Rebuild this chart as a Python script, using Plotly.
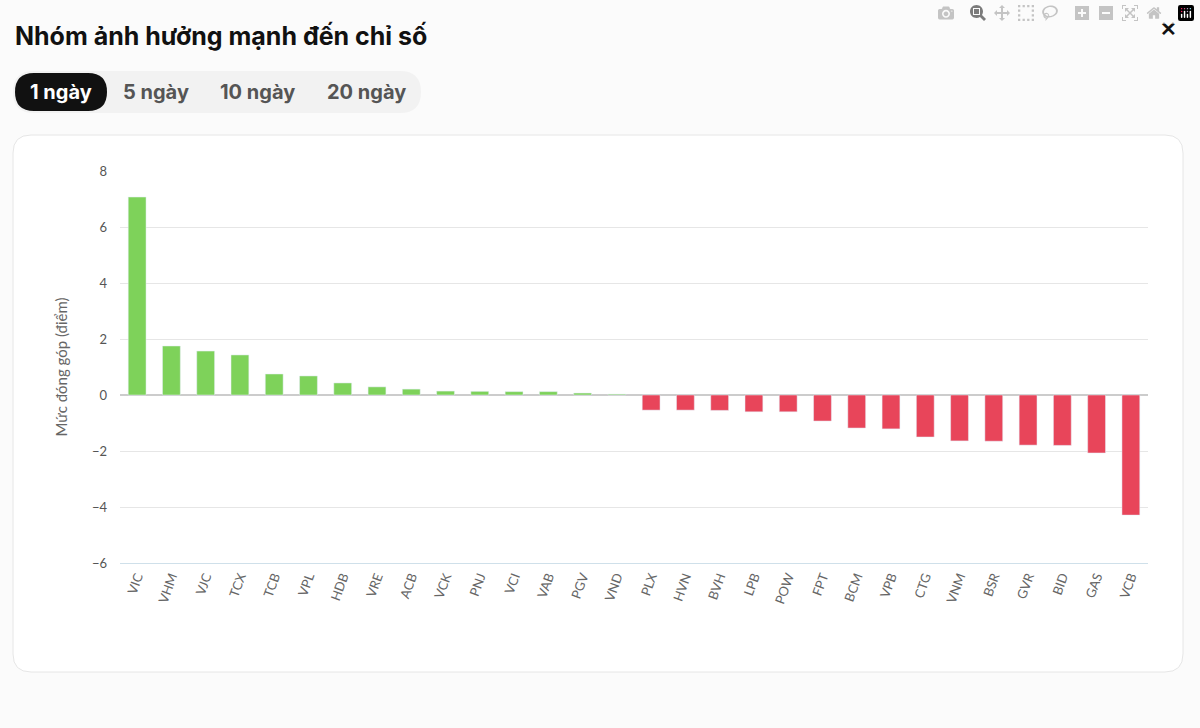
import plotly.graph_objects as go

tickers = ["VIC","VHM","VJC","TCX","TCB","VPL","HDB","VRE","ACB","VCK","PNJ","VCI","VAB","PGV","VND",
           "PLX","HVN","BVH","LPB","POW","FPT","BCM","VPB","CTG","VNM","BSR","GVR","BID","GAS","VCB"]
values = [7.07,1.75,1.57,1.43,0.75,0.68,0.43,0.29,0.21,0.14,0.13,0.12,0.12,0.07,0.03,
          -0.54,-0.54,-0.55,-0.6,-0.6,-0.93,-1.18,-1.21,-1.5,-1.64,-1.65,-1.79,-1.8,-2.07,-4.29]
colors = ["#7ed25a" if v >= 0 else "#e8455a" for v in values]

W, H = 1200, 728
L, R, T, B = 120, 52, 171, 165
pw, ph = W - L - R, H - T - B

def px(x): return (x - L) / pw
def py(y): return (H - B - y) / ph

def rrect(x0, y0, x1, y1, r):
    return (f"M {px(x0+r)},{py(y0)} L {px(x1-r)},{py(y0)} Q {px(x1)},{py(y0)} {px(x1)},{py(y0+r)} "
            f"L {px(x1)},{py(y1-r)} Q {px(x1)},{py(y1)} {px(x1-r)},{py(y1)} L {px(x0+r)},{py(y1)} "
            f"Q {px(x0)},{py(y1)} {px(x0)},{py(y1-r)} L {px(x0)},{py(y0+r)} Q {px(x0)},{py(y0)} {px(x0+r)},{py(y0)} Z")

fig = go.Figure(go.Bar(x=tickers, y=values, marker_color=colors, width=0.52))

shapes = [
    dict(type="path", xref="paper", yref="paper", path=rrect(13, 135, 1183, 672, 18),
         fillcolor="white", line=dict(color="#e6e6e6", width=1), layer="below"),
    dict(type="path", xref="paper", yref="paper", path=rrect(13, 71, 421, 113, 21),
         fillcolor="#f2f2f2", line=dict(width=0), layer="below"),
    dict(type="path", xref="paper", yref="paper", path=rrect(15, 73, 107, 111, 19),
         fillcolor="#111111", line=dict(width=0), layer="below"),
]
font = "Inter, Noto Sans, sans-serif"
ann = [
    dict(x=px(13), y=py(36), text="<b>Nhóm ảnh hưởng mạnh đến chỉ số</b>", xanchor="left",
         font=dict(size=25, color="#111", family=font)),
    dict(x=px(1168), y=py(28), text="<b>✕</b>", xanchor="center", font=dict(size=20, color="#111")),
    dict(x=px(61), y=py(92), text="<b>1 ngày</b>", xanchor="center", font=dict(size=20, color="white", family=font)),
    dict(x=px(156), y=py(92), text="<b>5 ngày</b>", xanchor="center", font=dict(size=20, color="#555", family=font)),
    dict(x=px(257), y=py(92), text="<b>10 ngày</b>", xanchor="center", font=dict(size=20, color="#555", family=font)),
    dict(x=px(366), y=py(92), text="<b>20 ngày</b>", xanchor="center", font=dict(size=20, color="#555", family=font)),
]
for a in ann:
    a.update(xref="paper", yref="paper", yanchor="middle", showarrow=False)

fig.update_layout(
    width=W, height=H, margin=dict(l=L, r=R, t=T, b=B),
    paper_bgcolor="#fbfbfb", plot_bgcolor="white", showlegend=False,
    shapes=shapes, annotations=ann,
    font=dict(family="Lato, sans-serif", color="#666"),
    xaxis=dict(tickangle=-70, tickfont=dict(size=13, color="#666"), showgrid=False,
               showline=True, linecolor="#cfe0ea"),
    yaxis=dict(range=[-6, 8], dtick=2, gridcolor="#e6e6e6", zeroline=True, zerolinecolor="#cccccc",
               tickfont=dict(size=13, color="#555"), ticklabelstandoff=12,
               title=dict(text="Mức đóng góp (điểm)", font=dict(size=15, color="#666"), standoff=20)),
)
fig.write_html("out.html", post_script="document.body.style.margin='0';document.body.style.background='#fbfbfb';")
